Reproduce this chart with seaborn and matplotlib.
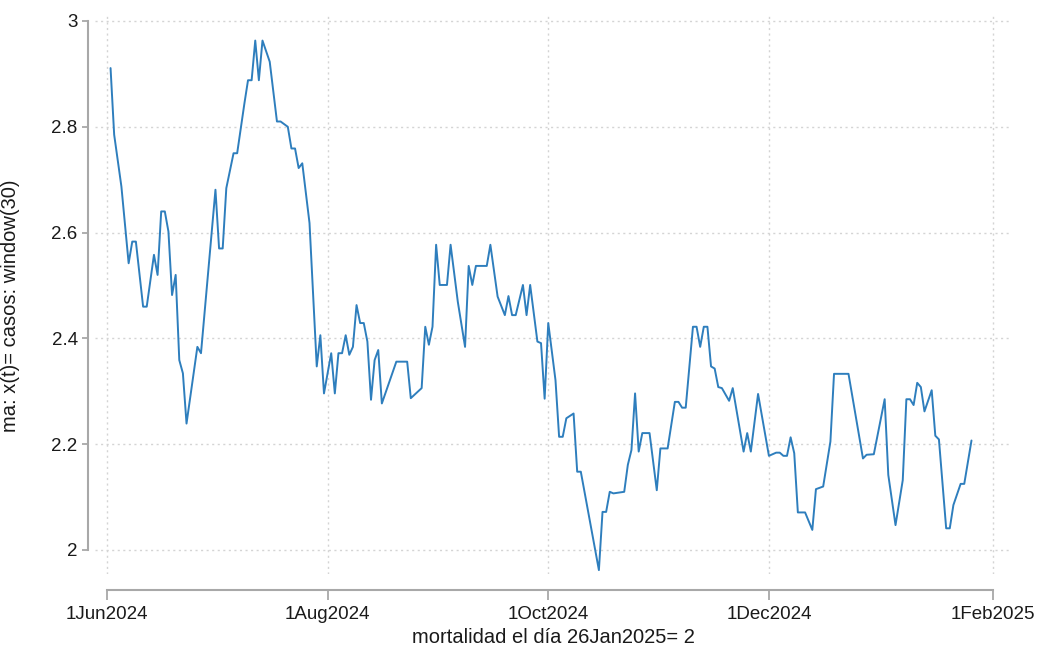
import seaborn as sns
import matplotlib
matplotlib.use("Agg")
import matplotlib.pyplot as plt
import matplotlib.dates as mdates
from matplotlib.ticker import FuncFormatter
import pandas as pd

# Data (vertices of the 30-day moving average)
dates = [
    "2024-06-02", "2024-06-03", "2024-06-05", "2024-06-07", "2024-06-08", "2024-06-09",
    "2024-06-11", "2024-06-12", "2024-06-14", "2024-06-15", "2024-06-16", "2024-06-17",
    "2024-06-18", "2024-06-19", "2024-06-20", "2024-06-21", "2024-06-22", "2024-06-23",
    "2024-06-26", "2024-06-27", "2024-07-01", "2024-07-02", "2024-07-03", "2024-07-04",
    "2024-07-06", "2024-07-07", "2024-07-09", "2024-07-10", "2024-07-11", "2024-07-12",
    "2024-07-13", "2024-07-14", "2024-07-16", "2024-07-18", "2024-07-19", "2024-07-21",
    "2024-07-22", "2024-07-23", "2024-07-24", "2024-07-25", "2024-07-27", "2024-07-29",
    "2024-07-30", "2024-07-31", "2024-08-02", "2024-08-03", "2024-08-04", "2024-08-05",
    "2024-08-06", "2024-08-07", "2024-08-08", "2024-08-09", "2024-08-10", "2024-08-11",
    "2024-08-12", "2024-08-13", "2024-08-14", "2024-08-15", "2024-08-16", "2024-08-20",
    "2024-08-23", "2024-08-24", "2024-08-27", "2024-08-28", "2024-08-29", "2024-08-30",
    "2024-08-31", "2024-09-01", "2024-09-03", "2024-09-04", "2024-09-06", "2024-09-08",
    "2024-09-09", "2024-09-10", "2024-09-11", "2024-09-14", "2024-09-15", "2024-09-17",
    "2024-09-19", "2024-09-20", "2024-09-21", "2024-09-22", "2024-09-24", "2024-09-25",
    "2024-09-26", "2024-09-28", "2024-09-29", "2024-09-30", "2024-10-01", "2024-10-03",
    "2024-10-04", "2024-10-05", "2024-10-06", "2024-10-08", "2024-10-09", "2024-10-10",
    "2024-10-15", "2024-10-16", "2024-10-17", "2024-10-18", "2024-10-19", "2024-10-22",
    "2024-10-23", "2024-10-24", "2024-10-25", "2024-10-26", "2024-10-27", "2024-10-29",
    "2024-10-31", "2024-11-01", "2024-11-03", "2024-11-05", "2024-11-06", "2024-11-07",
    "2024-11-08", "2024-11-10", "2024-11-11", "2024-11-12", "2024-11-13", "2024-11-14",
    "2024-11-15", "2024-11-16", "2024-11-17", "2024-11-18", "2024-11-20", "2024-11-21",
    "2024-11-24", "2024-11-25", "2024-11-26", "2024-11-28", "2024-12-01", "2024-12-03",
    "2024-12-04", "2024-12-05", "2024-12-06", "2024-12-07", "2024-12-08", "2024-12-09",
    "2024-12-11", "2024-12-13", "2024-12-14", "2024-12-16", "2024-12-18", "2024-12-19",
    "2024-12-23", "2024-12-27", "2024-12-28", "2024-12-30", "2025-01-02", "2025-01-03",
    "2025-01-05", "2025-01-07", "2025-01-08", "2025-01-09", "2025-01-10", "2025-01-11",
    "2025-01-12", "2025-01-13", "2025-01-15", "2025-01-16", "2025-01-17", "2025-01-19",
    "2025-01-20", "2025-01-21", "2025-01-23", "2025-01-24", "2025-01-26",
]
ma_values = [
    2.911, 2.785, 2.687, 2.542, 2.583, 2.583,
    2.460, 2.460, 2.558, 2.520, 2.640, 2.640,
    2.602, 2.482, 2.520, 2.359, 2.334, 2.239,
    2.384, 2.372, 2.681, 2.570, 2.570, 2.684,
    2.750, 2.750, 2.844, 2.888, 2.888, 2.963,
    2.888, 2.963, 2.923, 2.810, 2.810, 2.800,
    2.759, 2.759, 2.722, 2.731, 2.618, 2.347,
    2.406, 2.296, 2.372, 2.296, 2.372, 2.372,
    2.406, 2.369, 2.384, 2.463, 2.429, 2.429,
    2.394, 2.284, 2.359, 2.378, 2.277, 2.356,
    2.356, 2.287, 2.306, 2.422, 2.388, 2.422,
    2.577, 2.501, 2.501, 2.577, 2.469, 2.384,
    2.537, 2.501, 2.537, 2.537, 2.577, 2.479,
    2.444, 2.480, 2.444, 2.444, 2.501, 2.444,
    2.501, 2.394, 2.391, 2.286, 2.429, 2.321,
    2.214, 2.214, 2.249, 2.258, 2.148, 2.148,
    1.962, 2.072, 2.072, 2.110, 2.107, 2.110,
    2.161, 2.189, 2.296, 2.186, 2.221, 2.221,
    2.113, 2.192, 2.192, 2.280, 2.280, 2.269,
    2.269, 2.422, 2.422, 2.384, 2.422, 2.422,
    2.347, 2.343, 2.308, 2.306, 2.282, 2.306,
    2.186, 2.221, 2.186, 2.295, 2.178, 2.184,
    2.184, 2.178, 2.178, 2.213, 2.183, 2.071,
    2.071, 2.038, 2.115, 2.120, 2.205, 2.333,
    2.333, 2.173, 2.180, 2.181, 2.285, 2.142,
    2.047, 2.132, 2.285, 2.285, 2.274, 2.316,
    2.308, 2.262, 2.302, 2.216, 2.209, 2.041,
    2.041, 2.085, 2.125, 2.125, 2.207,
]

x_ticks = ["2024-06-01", "2024-08-01", "2024-10-01", "2024-12-01", "2025-02-01"]
y_ticks = [2, 2.2, 2.4, 2.6, 2.8, 3]

df = pd.DataFrame({"fecha": pd.to_datetime(dates), "ma": ma_values})
tick_dates = pd.to_datetime(x_ticks)

sns.set_style("white")
plt.rcParams['font.family'] = ['Liberation Sans', 'DejaVu Sans']

fig = plt.figure(figsize=(10.46, 6.55), dpi=100)
# axes placed in pixel terms of the 1046x655 canvas
ax = fig.add_axes([95 / 1046, 1 - 573.8 / 655, (1012 - 95) / 1046, (573.8 - 15.7) / 655])

sns.lineplot(data=df, x="fecha", y="ma", color="#2e7ebd", linewidth=1.4, ax=ax)

ax.set_xlim(tick_dates[0] - pd.Timedelta(days=3.3), tick_dates[-1] + pd.Timedelta(days=5.2))
ax.set_ylim(1.955, 3.01)

ax.set_xticks(tick_dates)
ax.xaxis.set_major_formatter(FuncFormatter(
    lambda v, pos: (lambda d: f"{d.day}{d.strftime('%b%Y')}")(mdates.num2date(v))))
ax.set_yticks(y_ticks)
ax.yaxis.set_major_formatter(FuncFormatter(lambda v, pos: f"{v:g}"))

# Stata-like dotted grid
ax.grid(True, color="#d4d4d4", linewidth=1.0, linestyle=(0, (1.5, 2.5)))

spine_col = "#a8a8a8"
for side in ["top", "right"]:
    ax.spines[side].set_visible(False)
ax.spines["left"].set_position(("outward", 5))
ax.spines["bottom"].set_position(("outward", 12))
ax.spines["left"].set_bounds(2, 3)
ax.spines["bottom"].set_bounds(mdates.date2num(tick_dates[0]), mdates.date2num(tick_dates[-1]))
for side in ["left", "bottom"]:
    ax.spines[side].set_color(spine_col)
    ax.spines[side].set_linewidth(1.5)

ax.tick_params(axis="y", left=True, length=4.5, width=1.3, color=spine_col, pad=3,
               labelsize=13.5, labelcolor="#1a1a1a")
ax.tick_params(axis="x", bottom=True, length=7, width=1.3, color=spine_col, pad=4,
               labelsize=13.5, labelcolor="#1a1a1a")

ax.set_xlabel("mortalidad el día 26Jan2025= 2", fontsize=14.5, color="#1a1a1a")
ax.set_ylabel("ma: x(t)= casos: window(30)", fontsize=14.5, color="#1a1a1a")
ax.xaxis.set_label_coords(0.5, -0.097)
ax.yaxis.set_label_coords(-0.082, 0.48)

fig.savefig("out.png", dpi=100)
